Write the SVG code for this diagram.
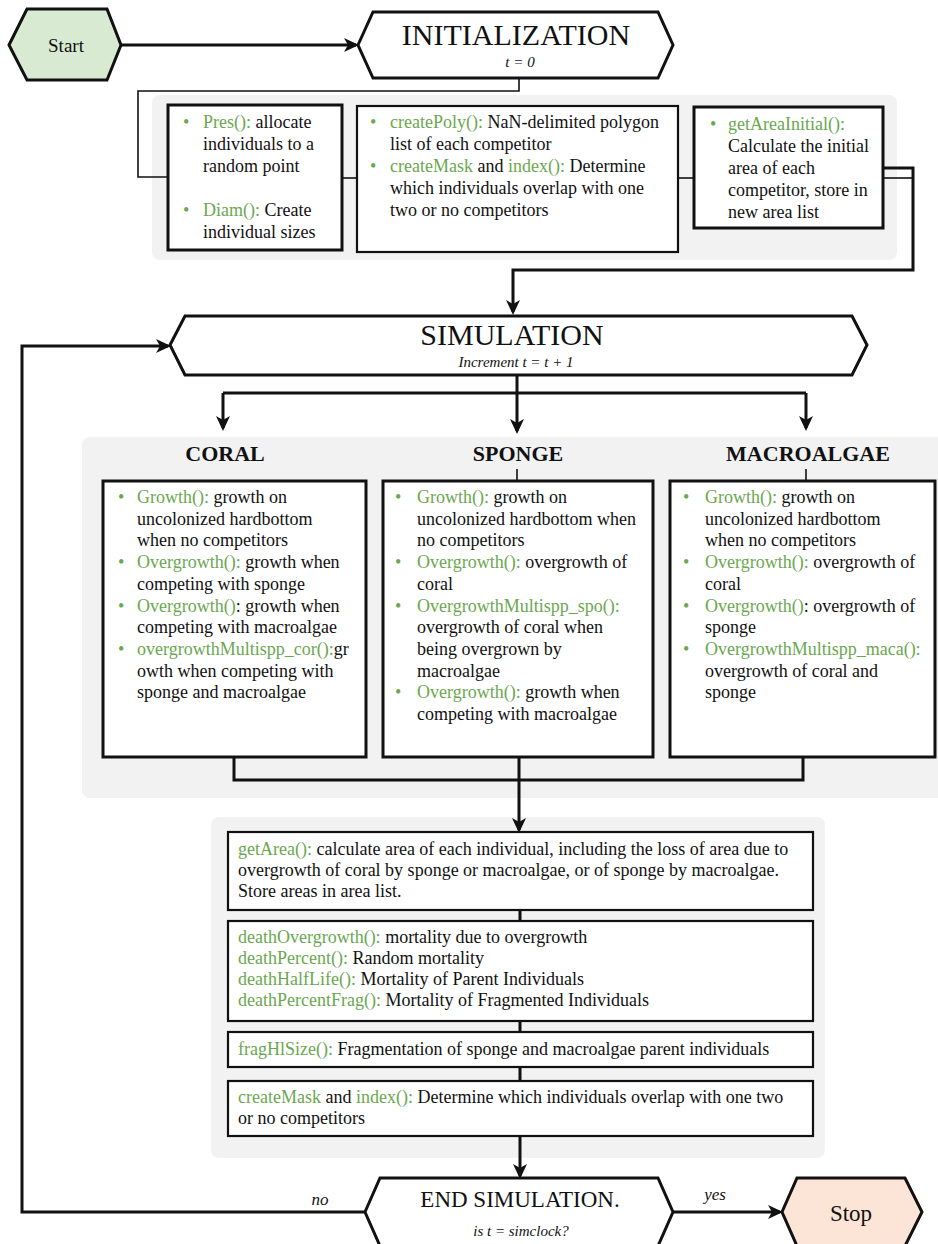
<svg xmlns="http://www.w3.org/2000/svg" width="938" height="1244" viewBox="0 0 938 1244">
<style>
text{font-family:"Liberation Serif","Times New Roman",serif;fill:#111}
.t{font-size:18px}
.g{fill:#6aa84f}
.it{font-style:italic}
.h{font-size:22px;font-weight:bold}
.title{font-size:30px}
.hex{stroke:#111;stroke-width:3;stroke-linejoin:miter}
.panel{fill:#f2f2f2}
.box{fill:#fff;stroke:#111;stroke-width:3}
.box2{fill:#fff;stroke:#111;stroke-width:2.2}
.thick{fill:none;stroke:#111;stroke-width:3}
.thin{fill:none;stroke:#111;stroke-width:1.6}
</style>
<defs>
<marker id="arr" markerUnits="userSpaceOnUse" viewBox="0 0 16 16" markerWidth="16" markerHeight="16" refX="12" refY="8" orient="auto">
<path d="M0,1 L15,8 L0,15 L4,8 z" fill="#111"/>
</marker>
</defs>

<g id="panels">
<rect class="panel" x="152" y="95" width="745" height="165" rx="8"/>
<rect class="panel" x="82" y="437" width="866" height="361" rx="8"/>
<rect class="panel" x="211" y="817" width="614" height="341" rx="8"/>
</g>

<g id="connectors">
<path class="thick" d="M121,45 H356" marker-end="url(#arr)"/>
<path class="thin" d="M519,78 V91 H138 V177 H168"/>
<path class="thin" d="M342,178 H357"/>
<path class="thin" d="M678,178 H694"/>
<path class="thick" d="M883,168 H913 V270 H513 V312" marker-end="url(#arr)"/>
<path class="thin" d="M883,178 H913"/>
<path class="thick" d="M517,375 V431" marker-end="url(#arr)"/>
<path class="thick" d="M223,393 H806"/>
<path class="thick" d="M223,393 V428" marker-end="url(#arr)"/>
<path class="thick" d="M806,393 V428" marker-end="url(#arr)"/>
<path class="thin" d="M517,469 V481"/>
<path class="thin" d="M806,469 V481"/>
<path class="thick" d="M234,757 V780 H803 V757"/>
<path class="thick" d="M519,757 V830" marker-end="url(#arr)"/>
<path class="thick" d="M520,910 V921 M520,1021 V1032 M520,1067 V1081"/>
<path class="thick" d="M520,1136 V1176" marker-end="url(#arr)"/>
<path class="thick" d="M365,1212 H22 V346 H168" marker-end="url(#arr)"/>
<path class="thick" d="M673,1212 H780" marker-end="url(#arr)"/>
<text class="it" x="320" y="1205" font-size="17" text-anchor="middle">no</text>
<text class="it" x="715" y="1200" font-size="17" text-anchor="middle">yes</text>
</g>

<g id="start">
<polygon class="hex" fill="#d9ead3" points="9,45 27,9 107,9 121,45 107,80 27,80"/>
<text x="66" y="52" font-size="19" text-anchor="middle">Start</text>
</g>

<g id="init">
<polygon class="hex" fill="#fff" points="358,45 373,12 658,12 673,45 658,78 373,78"/>
<text class="title" x="516" y="45" text-anchor="middle">INITIALIZATION</text>
<text class="it" x="520" y="67" font-size="15" text-anchor="middle">t = 0</text>
</g>

<g id="pres">
<rect class="box" x="168" y="105" width="174" height="145"/>
<text class="t"><tspan class="g" x="183" y="128">•</tspan><tspan x="203" y="128"><tspan class="g">Pres():</tspan> allocate</tspan><tspan x="203" y="150">individuals to a</tspan><tspan x="203" y="172">random point</tspan><tspan class="g" x="183" y="216">•</tspan><tspan x="203" y="216"><tspan class="g">Diam():</tspan> Create</tspan><tspan x="203" y="238">individual sizes</tspan></text>
</g>

<g id="createpoly">
<rect class="box2" x="357" y="106" width="321" height="146"/>
<text class="t"><tspan class="g" x="370" y="128">•</tspan><tspan x="390" y="128"><tspan class="g">createPoly():</tspan> NaN-delimited polygon</tspan><tspan x="390" y="150">list of each competitor</tspan><tspan class="g" x="370" y="172">•</tspan><tspan x="390" y="172"><tspan class="g">createMask</tspan> and <tspan class="g">index():</tspan> Determine</tspan><tspan x="390" y="194">which individuals overlap with one</tspan><tspan x="390" y="216">two or no competitors</tspan></text>
</g>

<g id="getareainitial">
<rect class="box" x="694" y="107" width="189" height="121"/>
<text class="t"><tspan class="g" x="710" y="130">•</tspan><tspan class="g" x="728" y="130">getAreaInitial():</tspan><tspan x="728" y="152">Calculate the initial</tspan><tspan x="728" y="174">area of each</tspan><tspan x="728" y="196">competitor, store in</tspan><tspan x="728" y="218">new area list</tspan></text>
</g>

<g id="simulation">
<polygon class="hex" fill="#fff" points="170,345 185,316 852,316 867,345 852,375 185,375"/>
<text class="title" x="512" y="345" text-anchor="middle">SIMULATION</text>
<text class="it" x="516" y="367" font-size="15" text-anchor="middle">Increment t = t + 1</text>
</g>

<g id="coral">
<text class="h" x="225" y="461" text-anchor="middle">CORAL</text>
<rect class="box" x="103" y="481" width="263" height="276"/>
<text class="t"><tspan class="g" x="118" y="503">•</tspan><tspan x="137" y="503"><tspan class="g">Growth():</tspan> growth on</tspan><tspan x="137" y="524.7">uncolonized hardbottom</tspan><tspan x="137" y="546.4">when no competitors</tspan><tspan class="g" x="118" y="568.1">•</tspan><tspan x="137" y="568.1"><tspan class="g">Overgrowth():</tspan> growth when</tspan><tspan x="137" y="589.8">competing with sponge</tspan><tspan class="g" x="118" y="611.5">•</tspan><tspan x="137" y="611.5"><tspan class="g">Overgrowth()</tspan>: growth when</tspan><tspan x="137" y="633.2">competing with macroalgae</tspan><tspan class="g" x="118" y="654.9">•</tspan><tspan x="137" y="654.9"><tspan class="g">overgrowthMultispp_cor():</tspan>gr</tspan><tspan x="137" y="676.6">owth when competing with</tspan><tspan x="137" y="698.3">sponge and macroalgae</tspan></text>
</g>

<g id="sponge">
<text class="h" x="518" y="461" text-anchor="middle">SPONGE</text>
<rect class="box" x="383" y="481" width="270" height="276"/>
<text class="t"><tspan class="g" x="395" y="503">•</tspan><tspan x="417" y="503"><tspan class="g">Growth():</tspan> growth on</tspan><tspan x="417" y="524.7">uncolonized hardbottom when</tspan><tspan x="417" y="546.4">no competitors</tspan><tspan class="g" x="395" y="568.1">•</tspan><tspan x="417" y="568.1"><tspan class="g">Overgrowth():</tspan> overgrowth of</tspan><tspan x="417" y="589.8">coral</tspan><tspan class="g" x="395" y="611.5">•</tspan><tspan class="g" x="417" y="611.5">OvergrowthMultispp_spo():</tspan><tspan x="417" y="633.2">overgrowth of coral when</tspan><tspan x="417" y="654.9">being overgrown by</tspan><tspan x="417" y="676.6">macroalgae</tspan><tspan class="g" x="395" y="698.3">•</tspan><tspan x="417" y="698.3"><tspan class="g">Overgrowth():</tspan> growth when</tspan><tspan x="417" y="720">competing with macroalgae</tspan></text>
</g>

<g id="macroalgae">
<text class="h" x="808" y="461" text-anchor="middle">MACROALGAE</text>
<rect class="box" x="670" y="481" width="265" height="276"/>
<text class="t"><tspan class="g" x="683" y="503">•</tspan><tspan x="705" y="503"><tspan class="g">Growth():</tspan> growth on</tspan><tspan x="705" y="524.7">uncolonized hardbottom</tspan><tspan x="705" y="546.4">when no competitors</tspan><tspan class="g" x="683" y="568.1">•</tspan><tspan x="705" y="568.1"><tspan class="g">Overgrowth():</tspan> overgrowth of</tspan><tspan x="705" y="589.8">coral</tspan><tspan class="g" x="683" y="611.5">•</tspan><tspan x="705" y="611.5"><tspan class="g">Overgrowth()</tspan>: overgrowth of</tspan><tspan x="705" y="633.2">sponge</tspan><tspan class="g" x="683" y="654.9">•</tspan><tspan class="g" x="705" y="654.9">OvergrowthMultispp_maca():</tspan><tspan x="705" y="676.6">overgrowth of coral and</tspan><tspan x="705" y="698.3">sponge</tspan></text>
</g>

<g id="getarea">
<rect class="box2" x="228" y="832" width="585" height="78"/>
<text class="t"><tspan x="238" y="855"><tspan class="g">getArea():</tspan> calculate area of each individual, including the loss of area due to</tspan><tspan x="238" y="876">overgrowth of coral by sponge or macroalgae, or of sponge by macroalgae.</tspan><tspan x="238" y="897">Store areas in area list.</tspan></text>
</g>

<g id="death">
<rect class="box2" x="228" y="921" width="585" height="100"/>
<text class="t"><tspan x="238" y="943"><tspan class="g">deathOvergrowth():</tspan> mortality due to overgrowth</tspan><tspan x="238" y="964"><tspan class="g">deathPercent():</tspan> Random mortality</tspan><tspan x="238" y="985"><tspan class="g">deathHalfLife():</tspan> Mortality of Parent Individuals</tspan><tspan x="238" y="1006"><tspan class="g">deathPercentFrag():</tspan> Mortality of Fragmented Individuals</tspan></text>
</g>

<g id="frag">
<rect class="box2" x="228" y="1032" width="585" height="35"/>
<text class="t" x="238" y="1055"><tspan class="g">fragHlSize():</tspan> Fragmentation of sponge and macroalgae parent individuals</text>
</g>

<g id="createmask">
<rect class="box2" x="228" y="1081" width="585" height="55"/>
<text class="t"><tspan x="238" y="1103"><tspan class="g">createMask</tspan> and <tspan class="g">index():</tspan> Determine which individuals overlap with one two</tspan><tspan x="238" y="1124">or no competitors</tspan></text>
</g>

<g id="end">
<polygon class="hex" fill="#fff" points="365,1212 380,1178 658,1178 673,1212 658,1246 380,1246"/>
<text x="520" y="1207" font-size="23" text-anchor="middle">END SIMULATION.</text>
<text class="it" x="521" y="1236" font-size="15" text-anchor="middle">is t = simclock?</text>
</g>

<g id="stop">
<polygon class="hex" fill="#fce4d6" points="782,1212 797,1178 905,1178 922,1212 905,1246 797,1246"/>
<text x="851" y="1221" font-size="23" text-anchor="middle">Stop</text>
</g>
</svg>
